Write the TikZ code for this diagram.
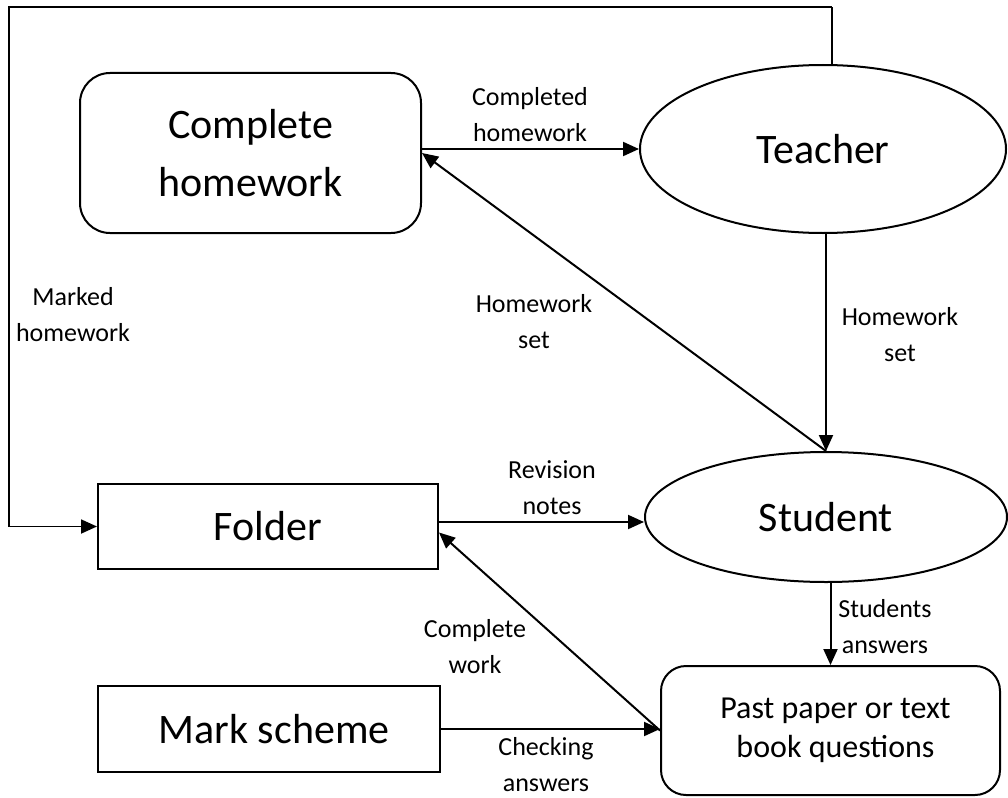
\documentclass[tikz,border=0pt]{standalone}
\usepackage{fontspec}
\setmainfont{Carlito}
\usetikzlibrary{arrows.meta,shapes.geometric,calc}
\begin{document}
\begin{tikzpicture}[x=1pt,y=-1pt,
  bigtxt/.style={font=\fontsize{42}{58}\selectfont, align=center},
  rbox/.style={draw, line width=2pt, rounded corners=30pt, inner sep=0pt},
  sqbox/.style={draw, line width=2pt, inner sep=0pt},
  oval/.style={draw, ellipse, line width=2pt, inner sep=0pt},
  lbl/.style={font=\fontsize{26}{36}\selectfont, align=center, inner sep=0pt},
  arr/.style={line width=2pt, -{Triangle[length=16pt,width=14pt]}}]
\useasboundingbox (0,0) rectangle (1008,797);

\node[rbox, bigtxt, minimum width=341pt, minimum height=160pt] (ch) at (250.5,153) {Complete\\homework};
\node[oval, bigtxt, minimum width=366pt, minimum height=168pt] (teacher) at (823,149) {Teacher};
\node[oval, bigtxt, minimum width=362pt, minimum height=130pt] (student) at (826,517) {Student};
\node[sqbox, bigtxt, minimum width=340pt, minimum height=85pt] (folder) at (268,526.5) {Folder};
\node[sqbox, bigtxt, minimum width=342pt, minimum height=86pt] (mark) at (269,729) {\hspace{10pt}Mark scheme};
\node[rbox, rounded corners=25pt, font=\fontsize{32}{39}\selectfont, align=center, minimum width=339pt, minimum height=129pt] (past) at (830.5,730.5) {\hspace{10pt}Past paper or text\\\hspace{10pt}book questions};

\node[lbl] (l1) at (530,115) {Completed\\homework};
\node[lbl] (l2) at (534,321.5) {Homework\\set};
\node[lbl] (l3) at (900,335) {Homework\\set};
\node[lbl] (l4) at (73,315) {Marked\\homework};
\node[lbl] (l5) at (552,487.5) {Revision\\notes};
\node[lbl] (l6) at (475,647) {Complete\\work};
\node[lbl] (l7) at (546,765) {Checking\\answers};
\node[lbl] (l8) at (885,627) {Students\\answers};

\coordinate (tr) at (832,7);
\coordinate (tl) at (9,7);

\draw[arr] (ch.east |- teacher.west) -- (teacher.west);
\draw[arr] (teacher.south -| student.north) -- (student.north);
\draw[arr] (student.north) -- (ch.east);
\draw[arr] ([yshift=4.5pt]folder.east) -- ([yshift=4.5pt]folder.east -| student.west);
\draw[arr] (past.west) -- ([yshift=-6pt]folder.east);
\draw[arr] (mark.east) -- (mark.east -| past.west);
\draw[arr] (past.north |- student.south) -- (past.north);
\draw[line width=1.2pt] (teacher.north -| tr) -- (tr);
\draw[arr, line width=1.8pt] (tr) -- (tl) |- (folder.west);
\end{tikzpicture}
\end{document}
